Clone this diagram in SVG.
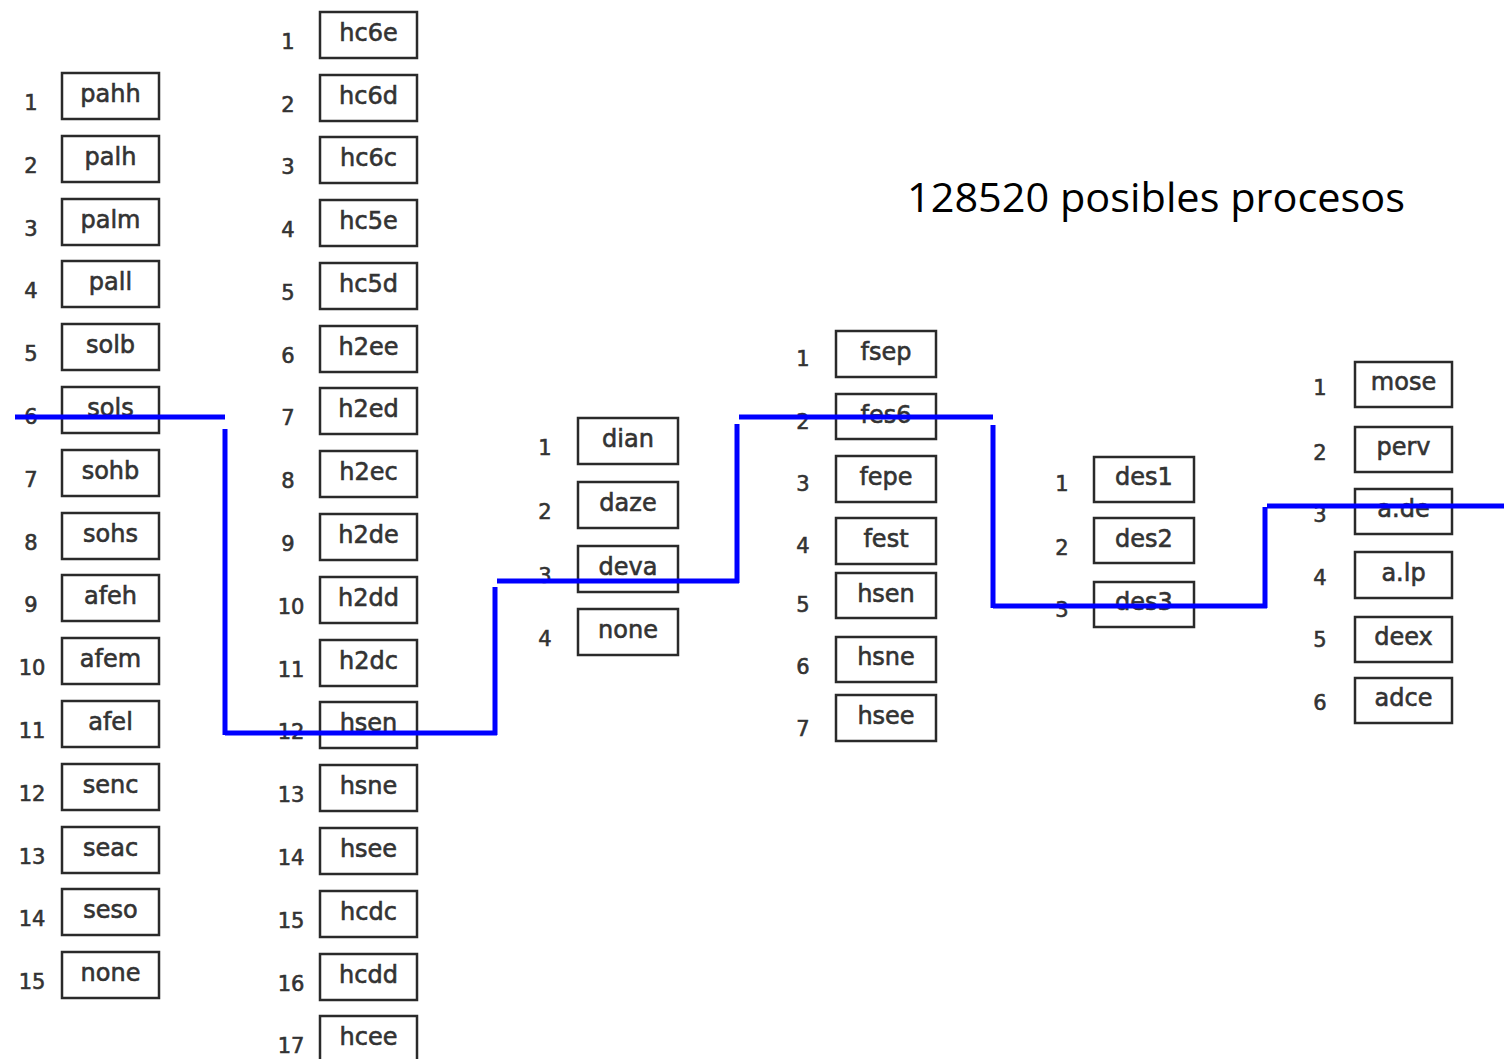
<svg xmlns="http://www.w3.org/2000/svg" width="1504" height="1059" viewBox="0 0 1504 1059">
<style>
.b{fill:#fff;stroke:#2a2a2a;stroke-width:2.5}
.t{font-family:"DejaVu Sans",sans-serif;font-size:24px;fill:#333;stroke:#333;stroke-width:0.6;text-anchor:middle}
.n{font-family:"DejaVu Sans",sans-serif;font-size:21px;fill:#333;stroke:#333;stroke-width:0.6;text-anchor:middle}
.c{stroke:#0000ff;stroke-width:5;fill:none}
</style>
<rect width="1504" height="1059" fill="#fff"/>
<g id="col1">
<g id="c1n1"><rect class="b" x="62" y="73" width="97" height="46"/><text class="t" x="110.5" y="102">pahh</text><text class="n" x="31" y="110">1</text></g>
<g id="c1n2"><rect class="b" x="62" y="136" width="97" height="46"/><text class="t" x="110.5" y="165">palh</text><text class="n" x="31" y="173">2</text></g>
<g id="c1n3"><rect class="b" x="62" y="199" width="97" height="46"/><text class="t" x="110.5" y="228">palm</text><text class="n" x="31" y="236">3</text></g>
<g id="c1n4"><rect class="b" x="62" y="261" width="97" height="46"/><text class="t" x="110.5" y="290">pall</text><text class="n" x="31" y="298">4</text></g>
<g id="c1n5"><rect class="b" x="62" y="324" width="97" height="46"/><text class="t" x="110.5" y="353">solb</text><text class="n" x="31" y="361">5</text></g>
<g id="c1n6"><rect class="b" x="62" y="387" width="97" height="46"/><text class="t" x="110.5" y="416">sols</text><text class="n" x="31" y="424">6</text></g>
<g id="c1n7"><rect class="b" x="62" y="450" width="97" height="46"/><text class="t" x="110.5" y="479">sohb</text><text class="n" x="31" y="487">7</text></g>
<g id="c1n8"><rect class="b" x="62" y="513" width="97" height="46"/><text class="t" x="110.5" y="542">sohs</text><text class="n" x="31" y="550">8</text></g>
<g id="c1n9"><rect class="b" x="62" y="575" width="97" height="46"/><text class="t" x="110.5" y="604">afeh</text><text class="n" x="31" y="612">9</text></g>
<g id="c1n10"><rect class="b" x="62" y="638" width="97" height="46"/><text class="t" x="110.5" y="667">afem</text><text class="n" x="32" y="675">10</text></g>
<g id="c1n11"><rect class="b" x="62" y="701" width="97" height="46"/><text class="t" x="110.5" y="730">afel</text><text class="n" x="32" y="738">11</text></g>
<g id="c1n12"><rect class="b" x="62" y="764" width="97" height="46"/><text class="t" x="110.5" y="793">senc</text><text class="n" x="32" y="801">12</text></g>
<g id="c1n13"><rect class="b" x="62" y="827" width="97" height="46"/><text class="t" x="110.5" y="856">seac</text><text class="n" x="32" y="864">13</text></g>
<g id="c1n14"><rect class="b" x="62" y="889" width="97" height="46"/><text class="t" x="110.5" y="918">seso</text><text class="n" x="32" y="926">14</text></g>
<g id="c1n15"><rect class="b" x="62" y="952" width="97" height="46"/><text class="t" x="110.5" y="981">none</text><text class="n" x="32" y="989">15</text></g>
</g>
<g id="col2">
<g id="c2n1"><rect class="b" x="320" y="12" width="97" height="46"/><text class="t" x="368.5" y="41">hc6e</text><text class="n" x="288" y="49">1</text></g>
<g id="c2n2"><rect class="b" x="320" y="75" width="97" height="46"/><text class="t" x="368.5" y="104">hc6d</text><text class="n" x="288" y="112">2</text></g>
<g id="c2n3"><rect class="b" x="320" y="137" width="97" height="46"/><text class="t" x="368.5" y="166">hc6c</text><text class="n" x="288" y="174">3</text></g>
<g id="c2n4"><rect class="b" x="320" y="200" width="97" height="46"/><text class="t" x="368.5" y="229">hc5e</text><text class="n" x="288" y="237">4</text></g>
<g id="c2n5"><rect class="b" x="320" y="263" width="97" height="46"/><text class="t" x="368.5" y="292">hc5d</text><text class="n" x="288" y="300">5</text></g>
<g id="c2n6"><rect class="b" x="320" y="326" width="97" height="46"/><text class="t" x="368.5" y="355">h2ee</text><text class="n" x="288" y="363">6</text></g>
<g id="c2n7"><rect class="b" x="320" y="388" width="97" height="46"/><text class="t" x="368.5" y="417">h2ed</text><text class="n" x="288" y="425">7</text></g>
<g id="c2n8"><rect class="b" x="320" y="451" width="97" height="46"/><text class="t" x="368.5" y="480">h2ec</text><text class="n" x="288" y="488">8</text></g>
<g id="c2n9"><rect class="b" x="320" y="514" width="97" height="46"/><text class="t" x="368.5" y="543">h2de</text><text class="n" x="288" y="551">9</text></g>
<g id="c2n10"><rect class="b" x="320" y="577" width="97" height="46"/><text class="t" x="368.5" y="606">h2dd</text><text class="n" x="291" y="614">10</text></g>
<g id="c2n11"><rect class="b" x="320" y="640" width="97" height="46"/><text class="t" x="368.5" y="669">h2dc</text><text class="n" x="291" y="677">11</text></g>
<g id="c2n12"><rect class="b" x="320" y="702" width="97" height="46"/><text class="t" x="368.5" y="731">hsen</text><text class="n" x="291" y="739">12</text></g>
<g id="c2n13"><rect class="b" x="320" y="765" width="97" height="46"/><text class="t" x="368.5" y="794">hsne</text><text class="n" x="291" y="802">13</text></g>
<g id="c2n14"><rect class="b" x="320" y="828" width="97" height="46"/><text class="t" x="368.5" y="857">hsee</text><text class="n" x="291" y="865">14</text></g>
<g id="c2n15"><rect class="b" x="320" y="891" width="97" height="46"/><text class="t" x="368.5" y="920">hcdc</text><text class="n" x="291" y="928">15</text></g>
<g id="c2n16"><rect class="b" x="320" y="954" width="97" height="46"/><text class="t" x="368.5" y="983">hcdd</text><text class="n" x="291" y="991">16</text></g>
<g id="c2n17"><rect class="b" x="320" y="1016" width="97" height="46"/><text class="t" x="368.5" y="1045">hcee</text><text class="n" x="291" y="1053">17</text></g>
</g>
<g id="col3">
<g id="c3n1"><rect class="b" x="578" y="418" width="100" height="46"/><text class="t" x="628" y="447">dian</text><text class="n" x="545" y="455">1</text></g>
<g id="c3n2"><rect class="b" x="578" y="482" width="100" height="46"/><text class="t" x="628" y="511">daze</text><text class="n" x="545" y="519">2</text></g>
<g id="c3n3"><rect class="b" x="578" y="546" width="100" height="46"/><text class="t" x="628" y="575">deva</text><text class="n" x="545" y="583">3</text></g>
<g id="c3n4"><rect class="b" x="578" y="609" width="100" height="46"/><text class="t" x="628" y="638">none</text><text class="n" x="545" y="646">4</text></g>
</g>
<g id="col4">
<g id="c4n1"><rect class="b" x="836" y="331" width="100" height="46"/><text class="t" x="886" y="360">fsep</text><text class="n" x="803" y="366">1</text></g>
<g id="c4n2"><rect class="b" x="836" y="394" width="100" height="45"/><text class="t" x="886" y="423">fes6</text><text class="n" x="803" y="429">2</text></g>
<g id="c4n3"><rect class="b" x="836" y="456" width="100" height="46"/><text class="t" x="886" y="485">fepe</text><text class="n" x="803" y="491">3</text></g>
<g id="c4n4"><rect class="b" x="836" y="518" width="100" height="46"/><text class="t" x="886" y="547">fest</text><text class="n" x="803" y="553">4</text></g>
<g id="c4n5"><rect class="b" x="836" y="573" width="100" height="45"/><text class="t" x="886" y="602">hsen</text><text class="n" x="803" y="612">5</text></g>
<g id="c4n6"><rect class="b" x="836" y="637" width="100" height="45"/><text class="t" x="886" y="665">hsne</text><text class="n" x="803" y="674">6</text></g>
<g id="c4n7"><rect class="b" x="836" y="695" width="100" height="46"/><text class="t" x="886" y="724">hsee</text><text class="n" x="803" y="736">7</text></g>
</g>
<g id="col5">
<g id="c5n1"><rect class="b" x="1094" y="457" width="100" height="45"/><text class="t" x="1144" y="485">des1</text><text class="n" x="1062" y="491">1</text></g>
<g id="c5n2"><rect class="b" x="1094" y="518" width="100" height="45"/><text class="t" x="1144" y="547">des2</text><text class="n" x="1062" y="555">2</text></g>
<g id="c5n3"><rect class="b" x="1094" y="582" width="100" height="45"/><text class="t" x="1144" y="610">des3</text><text class="n" x="1062" y="617">3</text></g>
</g>
<g id="col6">
<g id="c6n1"><rect class="b" x="1355" y="362" width="97" height="45"/><text class="t" x="1403.5" y="390">mose</text><text class="n" x="1320" y="395">1</text></g>
<g id="c6n2"><rect class="b" x="1355" y="427" width="97" height="45"/><text class="t" x="1403.5" y="455">perv</text><text class="n" x="1320" y="460">2</text></g>
<g id="c6n3"><rect class="b" x="1355" y="489" width="97" height="45"/><text class="t" x="1403.5" y="517">a.de</text><text class="n" x="1320" y="522">3</text></g>
<g id="c6n4"><rect class="b" x="1355" y="552" width="97" height="46"/><text class="t" x="1403.5" y="581">a.lp</text><text class="n" x="1320" y="585">4</text></g>
<g id="c6n5"><rect class="b" x="1355" y="617" width="97" height="45"/><text class="t" x="1403.5" y="645">deex</text><text class="n" x="1320" y="647">5</text></g>
<g id="c6n6"><rect class="b" x="1355" y="678" width="97" height="45"/><text class="t" x="1403.5" y="706">adce</text><text class="n" x="1320" y="710">6</text></g>
</g>
<text id="title" x="907" y="212" font-family="'Open Sans','Noto Sans',sans-serif" font-size="40" fill="#000" textLength="498" lengthAdjust="spacingAndGlyphs">128520 posibles procesos</text>
<g id="connectors" class="c">
<line x1="15" y1="417" x2="225" y2="417"/>
<line x1="225" y1="429" x2="225" y2="735"/>
<line x1="225" y1="733" x2="497" y2="733"/>
<line x1="495" y1="735" x2="495" y2="587"/>
<line x1="497" y1="581" x2="739" y2="581"/>
<line x1="737" y1="583" x2="737" y2="424"/>
<line x1="739" y1="417" x2="993" y2="417"/>
<line x1="993" y1="425" x2="993" y2="608"/>
<line x1="993" y1="606" x2="1267" y2="606"/>
<line x1="1265" y1="608" x2="1265" y2="507"/>
<line x1="1267" y1="506" x2="1504" y2="506"/>
</g>
</svg>
